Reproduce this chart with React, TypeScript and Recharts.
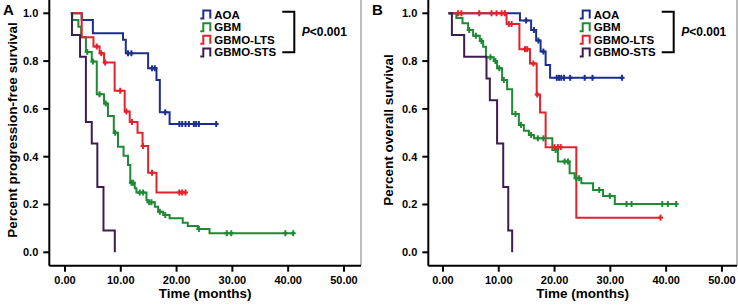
import { LineChart, Line, XAxis, YAxis, ReferenceLine, Label } from "recharts";

// ---- Panel A: progression-free survival ----
const pfsAoaT = [1.2, 3.0, 5.0, 10.4, 10.9, 14.9, 16.4, 17.0, 18.75];
const pfsAoaS = [1.0, 0.972, 0.917, 0.889, 0.833, 0.77, 0.721, 0.586, 0.537];
const pfsAoaCens = [11.3, 11.9, 15.6, 16.1, 17.97, 20.5, 21.0, 21.6, 22.2, 23.1, 23.5, 24.0, 27.1];

const pfsGbmT = [1.0, 1.3, 2.4, 2.9, 3.75, 4.8, 5.7, 7.0, 7.7, 8.75, 9.5, 10.5, 11.3, 11.7, 12.5, 12.8, 14.6, 14.8, 16.1, 16.7, 17.6, 18.75, 21.1, 22.0, 23.8, 25.9];
const pfsGbmS = [1.0, 0.972, 0.944, 0.9, 0.838, 0.798, 0.661, 0.623, 0.57, 0.5, 0.442, 0.404, 0.365, 0.291, 0.268, 0.25, 0.219, 0.209, 0.191, 0.17, 0.156, 0.142, 0.124, 0.11, 0.098, 0.08];
const pfsGbmCens = [4.0, 5.0, 6.2, 7.3, 9.0, 11.9, 12.2, 13.4, 14.0, 15.1, 15.5, 17.0, 17.97, 24.0, 29.0, 29.8, 39.5, 40.9];

const pfsLtsT = [1.2, 3.0, 5.1, 6.2, 7.0, 8.9, 10.7, 11.6, 13.0, 13.9, 14.9, 16.4];
const pfsLtsS = [1.0, 0.9, 0.861, 0.833, 0.794, 0.676, 0.589, 0.545, 0.5, 0.445, 0.333, 0.25];
const pfsLtsCens = [5.7, 6.5, 7.2, 9.9, 11.0, 12.0, 14.0, 15.6, 20.5, 21.0, 21.6];

const pfsStsT = [1.1, 1.25, 2.7, 3.75, 4.8, 5.8, 6.9, 8.93];
const pfsStsS = [1.0, 0.909, 0.818, 0.545, 0.455, 0.273, 0.091, 0.0];
const pfsStsCens: number[] = [];

// ---- Panel B: overall survival ----
const osAoaT = [1.0, 13.8, 15.8, 16.7, 17.5, 18.4, 19.2];
const osAoaS = [1.0, 0.97, 0.93, 0.886, 0.84, 0.784, 0.73];
const osAoaCens = [14.9, 16.3, 17.1, 18.0, 20.4, 20.8, 21.2, 21.7, 22.8, 25.4, 26.8, 32.1];

const osGbmT = [1.0, 2.4, 3.5, 4.5, 5.4, 6.6, 7.2, 7.7, 9.1, 9.7, 10.6, 11.5, 12.4, 13.6, 14.5, 15.4, 16.3, 19.6, 20.6, 22.7, 23.6, 24.8, 26.9, 28.7, 30.8];
const osGbmS = [1.0, 0.98, 0.958, 0.93, 0.906, 0.884, 0.86, 0.816, 0.8, 0.77, 0.721, 0.682, 0.579, 0.533, 0.509, 0.491, 0.477, 0.428, 0.38, 0.331, 0.31, 0.289, 0.261, 0.236, 0.202];
const osGbmCens = [4.7, 5.9, 6.9, 8.5, 9.4, 10.1, 10.9, 13.0, 14.0, 15.8, 17.0, 18.0, 20.2, 21.8, 22.4, 23.9, 24.4, 28.0, 29.9, 32.9, 33.8, 39.3, 40.3, 41.8];

const osLtsT = [1.0, 11.4, 13.7, 15.6, 16.8, 17.4, 18.4, 23.9];
const osLtsS = [1.0, 0.955, 0.85, 0.79, 0.66, 0.585, 0.44, 0.145];
const osLtsCens = [2.7, 3.3, 6.5, 8.7, 9.6, 10.5, 11.1, 11.8, 12.3, 14.7, 15.1, 16.2, 16.9, 20.0, 20.6, 21.1, 39.0];

const osStsT = [1.0, 1.6, 3.8, 7.8, 8.4, 9.7, 10.8, 11.7, 12.4];
const osStsS = [1.0, 0.909, 0.818, 0.727, 0.636, 0.455, 0.273, 0.091, 0.0];
const osStsCens: number[] = [];

const groups = ["AOA", "GBM", "GBMO-LTS", "GBMO-STS"];
const colors = ["#1c2f8e", "#1e8a33", "#e3232b", "#3d1c50"];
const xTicks = [0, 10, 20, 30, 40, 50];
const yTicks = [0, 0.2, 0.4, 0.6, 0.8, 1.0];
const pValue = "<0.001";

const FONT = "'Liberation Sans', Arial, sans-serif";

type Pt = { t: number; s: number; c: boolean };

function buildCurve(t: number[], s: number[], cens: number[]): Pt[] {
  const pts: Pt[] = t.map((x, i) => ({ t: x, s: s[i], c: false }));
  cens.forEach((x) => {
    let v = s[0];
    t.forEach((tt, i) => {
      if (tt <= x) v = s[i];
    });
    pts.push({ t: x, s: v, c: true });
  });
  pts.sort((a, b) => a.t - b.t || (a.c ? 1 : 0) - (b.c ? 1 : 0));
  return pts;
}

const pfsCurves = [
  buildCurve(pfsAoaT, pfsAoaS, pfsAoaCens),
  buildCurve(pfsGbmT, pfsGbmS, pfsGbmCens),
  buildCurve(pfsLtsT, pfsLtsS, pfsLtsCens),
  buildCurve(pfsStsT, pfsStsS, pfsStsCens),
];
const osCurves = [
  buildCurve(osAoaT, osAoaS, osAoaCens),
  buildCurve(osGbmT, osGbmS, osGbmCens),
  buildCurve(osLtsT, osLtsS, osLtsCens),
  buildCurve(osStsT, osStsS, osStsCens),
];

const tickStyle = { fill: "#000", fontSize: 11, fontWeight: 700, fontFamily: FONT };

function censorDot(color: string) {
  return (props: any) => {
    const { cx, cy, payload, index } = props;
    if (!payload || !payload.c) return <g key={`n${index}`} />;
    return (
      <g key={`c${index}`}>
        <line x1={cx} x2={cx} y1={cy - 3} y2={cy + 3} stroke={color} strokeWidth={2} />
        <line x1={cx - 2.5} x2={cx + 2.5} y1={cy} y2={cy} stroke={color} strokeWidth={2} />
      </g>
    );
  };
}

type PanelProps = {
  curves: Pt[][];
  letter: string;
  yTitle: string;
  width: number;
  yAxisWidth: number;
  xDomain: [number, number];
  legendX: number;
  yTitleX: number;
};

// legend rows, evenly spaced
const legendRows = [14.6, 27.2, 39.8, 52.4];

function SurvivalPanel({ curves, letter, yTitle, width, yAxisWidth, xDomain, legendX, yTitleX }: PanelProps) {
  return (
    <div style={{ position: "relative", width, height: 306 }}>
      <LineChart width={width} height={306} margin={{ top: 0, right: 1, bottom: 0, left: 0 }}>
        <XAxis
          type="number"
          dataKey="t"
          domain={xDomain}
          allowDataOverflow
          ticks={xTicks}
          tickFormatter={(v: number) => v.toFixed(2)}
          height={40.3}
          tickSize={6}
          tickMargin={4}
          tick={tickStyle}
          axisLine={{ stroke: "#000", strokeWidth: 2 }}
          tickLine={{ stroke: "#000", strokeWidth: 2 }}
        >
          <Label
            content={(p: any) => {
              const vb = p.viewBox;
              return (
                <text x={vb.x + vb.width / 2} y={297.5} textAnchor="middle" fontSize={13.5} fontWeight={700} fontFamily={FONT} fill="#000">
                  Time (months)
                </text>
              );
            }}
          />
        </XAxis>
        <YAxis
          type="number"
          domain={[-0.056, 1.0556]}
          allowDataOverflow
          ticks={yTicks}
          tickFormatter={(v: number) => v.toFixed(1)}
          width={yAxisWidth}
          tickSize={6}
          tickMargin={5}
          tick={tickStyle}
          axisLine={{ stroke: "#000", strokeWidth: 2 }}
          tickLine={{ stroke: "#000", strokeWidth: 2 }}
        >
          <Label
            content={() => (
              <text
                x={yTitleX}
                y={130}
                transform={`rotate(-90, ${yTitleX}, 130)`}
                textAnchor="middle"
                dominantBaseline="central"
                fontSize={13.5}
                fontWeight={700}
                fontFamily={FONT}
                fill="#000"
              >
                {yTitle}
              </text>
            )}
          />
        </YAxis>
        <ReferenceLine x={xDomain[1]} stroke="#7a7a7a" strokeWidth={1} />
        {curves.map((c, i) => (
          <Line
            key={groups[i]}
            data={c}
            dataKey="s"
            type="stepAfter"
            stroke={colors[i]}
            strokeWidth={2}
            dot={censorDot(colors[i])}
            activeDot={false}
            isAnimationActive={false}
          />
        ))}
      </LineChart>
      <svg width={width} height={306} style={{ position: "absolute", left: 0, top: 0, pointerEvents: "none" }}>
        <text x={3} y={15} fontSize={15} fontWeight={700} fontFamily={FONT} fill="#000">
          {letter}
        </text>
        {groups.map((g, i) => {
          const y = legendRows[i];
          return (
            <g key={g}>
              <path
                d={`M${legendX},${y + 4} H${legendX + 3} V${y - 4} H${legendX + 10} V${y + 4}`}
                fill="none"
                stroke={colors[i]}
                strokeWidth={2}
              />
              <text x={legendX + 14} y={y} dominantBaseline="central" fontSize={11.5} fontWeight={700} fontFamily={FONT} fill="#000">
                {g}
              </text>
            </g>
          );
        })}
        <path
          d={`M${legendX + 82},11.7 H${legendX + 94} V52.3 H${legendX + 82}`}
          fill="none"
          stroke="#000"
          strokeWidth={2}
        />
        <text x={legendX + 101.5} y={31.7} dominantBaseline="central" fontSize={12} fontWeight={700} fontFamily={FONT} fill="#000">
          <tspan fontStyle="italic">P</tspan>
          {pValue}
        </text>
      </svg>
    </div>
  );
}

export default function App() {
  return (
    <div style={{ position: "absolute", left: 0, top: 0, width: 738, height: 306, background: "#fff", display: "flex" }}>
      <div style={{ width: 369 }}>
        <SurvivalPanel
          curves={pfsCurves}
          letter="A"
          yTitle="Percent progression-free survival"
          width={362}
          yAxisWidth={49.3}
          xDomain={[-2.81, 53.05]}
          legendX={200.3}
          yTitleX={12}
        />
      </div>
      <div style={{ width: 369 }}>
        <SurvivalPanel
          curves={osCurves}
          letter="B"
          yTitle="Percent overall survival"
          width={369}
          yAxisWidth={59.3}
          xDomain={[-2.63, 52.7]}
          legendX={210.7}
          yTitleX={19}
        />
      </div>
    </div>
  );
}
